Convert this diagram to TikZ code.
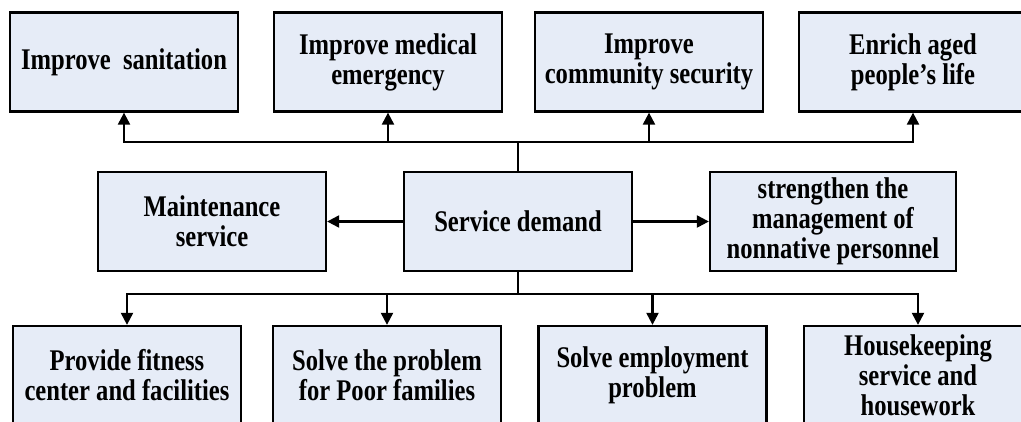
\documentclass[tikz,border=0pt]{standalone}
\usepackage{fontspec}
\setmainfont{Liberation Serif}[FakeStretch=0.82]
\usetikzlibrary{arrows.meta}
\definecolor{boxfill}{RGB}{230,236,247}
\begin{document}
\begin{tikzpicture}[x=1pt,y=-1pt,
  box/.style={draw=black, line width=2.3pt, fill=boxfill, minimum width=228pt, minimum height=99pt,
    align=center, inner sep=2pt, font=\fontsize{30}{30}\selectfont\bfseries},
  conn/.style={line width=2.2pt},
  arr/.style={line width=2.2pt, -{Triangle[length=12pt,width=12pt]}}]
\useasboundingbox (0,0) rectangle (1021,421);
\clip (0,0) rectangle (1021,421);
% top row
\node[box] (T1) at (124,62) {Improve~ sanitation};
\node[box] (T2) at (388,62) {Improve medical\\emergency};
\node[box] (T3) at (649,62) {Improve\\community security};
\node[box] (T4) at (913,62) {Enrich aged\\people’s life};
% middle row
\node[box] (M) at (212,221.5) {Maintenance\\service};
\node[box] (S) at (518,221.5) {Service demand};
\node[box, minimum width=246pt] (R) at (833,221.5) {strengthen the\\management of\\nonnative personnel};
% bottom row
\node[box] (B1) at (127,375.5) {Provide fitness\\center and facilities};
\node[box] (B2) at (387,375.5) {Solve the problem\\for Poor families};
\node[box] (B3) at (652.5,375.5) {Solve employment\\problem};
\node[box] (B4) at (918,375.5) {Housekeeping\\service and\\housework};
% connectors
\coordinate (tb) at (518,142);
\coordinate (bb) at (518,294);
\draw[conn] (S.north) -- (tb);
\draw[arr] (tb) -| (T1.south);
\draw[arr] (tb) -| (T2.south);
\draw[arr] (tb) -| (T3.south);
\draw[arr] (tb) -| (T4.south);
\draw[conn] (S.south) -- (bb);
\draw[arr] (bb) -| (B1.north);
\draw[arr] (bb) -| (B2.north);
\draw[arr] (bb) -| (B3.north);
\draw[arr] (bb) -| (B4.north);
\draw[arr] (S.west) -- (M.east);
\draw[arr] (S.east) -- (R.west);
\end{tikzpicture}
\end{document}
